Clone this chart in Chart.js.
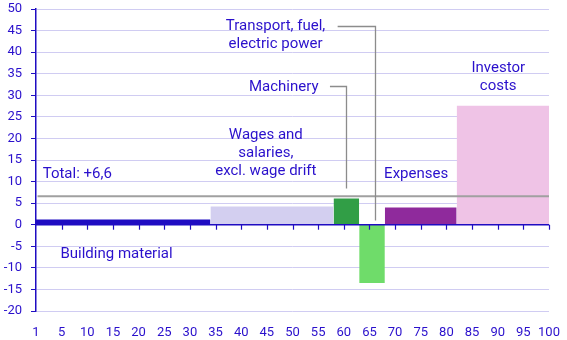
<!DOCTYPE html>
<html>
<head>
<meta charset="utf-8">
<script src="https://cdn.jsdelivr.net/npm/chart.js@4.4.1/dist/chart.umd.min.js"></script>
<style>
  html, body { margin: 0; padding: 0; background: #fff; }
  #wrap { width: 567px; height: 340px; }
</style>
</head>
<body>
<div id="wrap"><canvas id="chart"></canvas></div>
<script>
// --- data ---
const categories = ['Building material', 'Wages and salaries, excl. wage drift', 'Machinery',
                    'Transport, fuel, electric power', 'Expenses', 'Investor costs'];
const boundaries = [0, 34, 58, 63, 68, 82, 100];   // cumulative weight, left/right edges
const changes = [1.2, 4.2, 6.1, -13.5, 4.0, 27.6];
const total = 6.6;
const xTicks = [0, 5, 10, 15, 20, 25, 30, 35, 40, 45, 50, 55, 60, 65, 70, 75, 80, 85, 90, 95, 100];
const yTicks = [-20, -15, -10, -5, 0, 5, 10, 15, 20, 25, 30, 35, 40, 45, 50];

const colors = ['#1f0cc2', '#d3cff0', '#319e46', '#6fdc6a', '#8f2a9c', '#efc3e6'];
const textColor = '#2a10cc';
const axisColor = '#1f0cc2';
const gridColor = '#d0ccf2';
const FONT = '15px Roboto';

// labels placed in data units (x = weight, y = percent)
const labels = [
    { lines: ['Transport, fuel,', 'electric power'], x: 46.7, y: 46, align: 'center' },
    { lines: ['Machinery'], x: 48.3, y: 31.9, align: 'center' },
    { lines: ['Wages and', 'salaries,', 'excl. wage drift'], x: 44.8, y: 20.8, align: 'center' },
    { lines: ['Expenses'], x: 74.1, y: 11.6, align: 'center' },
    { lines: ['Investor', 'costs'], x: 90.1, y: 36.3, align: 'center' },
    { lines: ['Total: +' + String(total).replace('.', ',')], x: 1.3, y: 11.6, align: 'left' },
    { lines: ['Building material'], x: 15.7, y: -6.9, align: 'center' }
];

// leader lines: from beside the text, across, then down to the bar
const leaders = [
    { seg: 2, fromX: 57.3, fromY: 32.1, toY: 8.4, atX: 60.5 },
    { seg: 3, fromX: 58.8, fromY: 46.1, toY: 1.0, atX: 66 }
];

// each segment becomes a filled rectangle from its edges
const segDatasets = changes.map((v, i) => ({
    label: categories[i],
    data: [
        { x: boundaries[i], y: 0 },
        { x: boundaries[i], y: v },
        { x: boundaries[i + 1], y: v },
        { x: boundaries[i + 1], y: 0 }
    ],
    backgroundColor: colors[i],
    borderWidth: 0,
    pointRadius: 0,
    tension: 0,
    fill: 'origin'
}));

const totalDataset = {
    label: 'Total',
    data: [{ x: 0.3, y: total }, { x: 100, y: total }],
    borderColor: '#a0a0a0',
    borderWidth: 2,
    pointRadius: 0,
    fill: false
};

const overlayPlugin = {
    id: 'overlay',
    afterDatasetsDraw(chart) {
        const ctx = chart.ctx;
        const xs = chart.scales.x, ys = chart.scales.y;
        const y0 = ys.getPixelForValue(0);

        // zero axis with ticks below
        ctx.save();
        ctx.strokeStyle = axisColor;
        ctx.lineWidth = 1.5;
        ctx.beginPath();
        ctx.moveTo(xs.left, y0);
        ctx.lineTo(xs.right, y0);
        ctx.stroke();
        ctx.lineWidth = 1.2;
        xTicks.forEach(t => {
            if (t === 0) return;
            const px = Math.round(xs.getPixelForValue(t)) + 0.5;
            ctx.beginPath();
            ctx.moveTo(px, y0);
            ctx.lineTo(px, y0 + 5);
            ctx.stroke();
        });

        // leader lines
        ctx.strokeStyle = '#8c8c8c';
        ctx.lineWidth = 1.3;
        leaders.forEach(l => {
            const px = Math.round(xs.getPixelForValue(l.atX)) + 0.5;
            ctx.beginPath();
            ctx.moveTo(xs.getPixelForValue(l.fromX), Math.round(ys.getPixelForValue(l.fromY)) + 0.5);
            ctx.lineTo(px, Math.round(ys.getPixelForValue(l.fromY)) + 0.5);
            ctx.lineTo(px, ys.getPixelForValue(l.toY));
            ctx.stroke();
        });

        // text labels
        ctx.fillStyle = textColor;
        ctx.font = FONT;
        ctx.textBaseline = 'middle';
        labels.forEach(lb => {
            ctx.textAlign = lb.align;
            const px = xs.getPixelForValue(lb.x);
            const py = ys.getPixelForValue(lb.y);
            lb.lines.forEach((s, k) => ctx.fillText(s, px, py + k * 18));
        });
        ctx.restore();
    }
};

new Chart(document.getElementById('chart'), {
    type: 'line',
    data: { datasets: [totalDataset, ...segDatasets] },
    options: {
        responsive: true,
        maintainAspectRatio: false,
        animation: false,
        layout: { padding: { top: 9, right: 18, left: 0, bottom: 0 } },
        plugins: { legend: { display: false }, tooltip: { enabled: false } },
        scales: {
            x: {
                type: 'linear',
                min: 0, max: 100,
                afterBuildTicks: s => { s.ticks = xTicks.map(v => ({ value: v })); },
                afterFit: s => { s.height = 29; s.paddingLeft = 0; s.paddingRight = 0; },
                grid: { display: false },
                border: { display: false },
                ticks: {
                    color: textColor,
                    font: { family: 'Roboto', size: 13 },
                    padding: 6,
                    maxRotation: 0,
                    autoSkip: false,
                    callback: v => v === 0 ? '1' : v
                }
            },
            y: {
                min: -20, max: 50,
                afterBuildTicks: s => { s.ticks = yTicks.map(v => ({ value: v })); },
                afterFit: s => { s.width = 36; s.paddingTop = 0; s.paddingBottom = 0; },
                grid: { color: gridColor, tickColor: axisColor, tickLength: 5, lineWidth: 1 },
                border: { color: axisColor, width: 1.5 },
                ticks: {
                    color: textColor,
                    font: { family: 'Roboto', size: 13 },
                    padding: 9
                }
            }
        }
    },
    plugins: [overlayPlugin]
});
</script>
</body>
</html>
